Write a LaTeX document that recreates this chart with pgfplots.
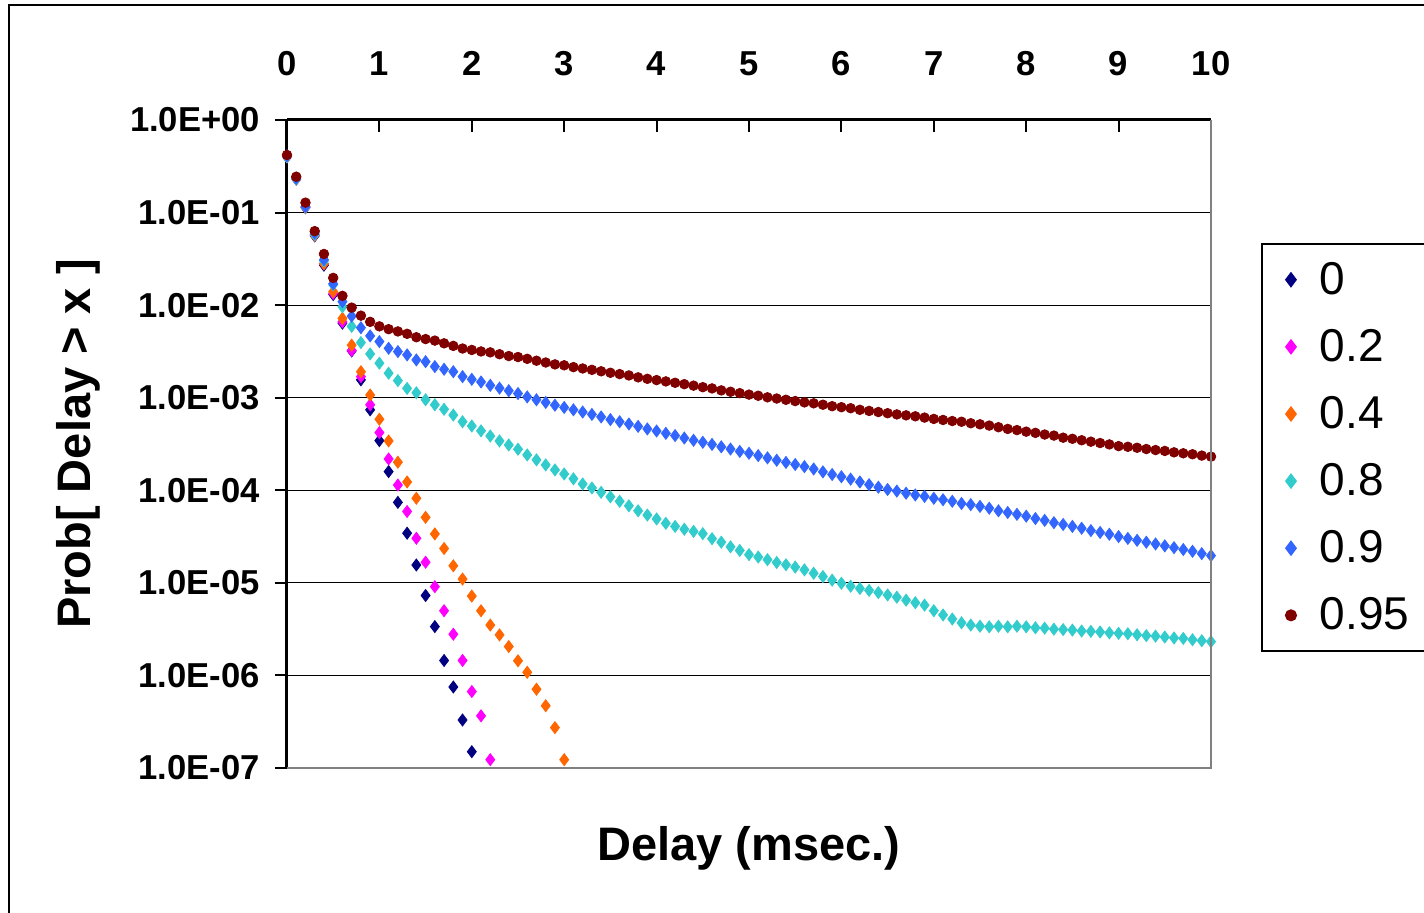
\documentclass[border=0pt]{standalone}
\usepackage{fontspec}
\setmainfont{Liberation Sans}
\usepackage{pgfplots}
\pgfplotsset{compat=1.18}

\definecolor{cZero}{RGB}{0,0,128}
\definecolor{cTwo}{RGB}{255,0,255}
\definecolor{cFour}{RGB}{255,102,0}
\definecolor{cEight}{RGB}{51,204,204}
\definecolor{cNine}{RGB}{51,102,255}
\definecolor{cNineFive}{RGB}{128,0,0}

\begin{document}
\begin{tikzpicture}
\draw[line width=1.3pt] (-139pt,-90pt) -- (-139pt,381.5pt) -- (590pt,381.5pt);
\begin{axis}[
  at={(0pt,0pt)}, anchor=south west,
  scale only axis, width=462pt, height=324pt,
  xmin=0, xmax=10, ymin=1e-7, ymax=1, ymode=log,
  axis x line=top, axis y line=left,
  axis line style={-, black, line width=1.5pt},
  xtick={0,1,...,10},
  xticklabels={0,1,2,3,4,5,6,7,8,9,10},
  ytick={1e-7,1e-6,1e-5,1e-4,1e-3,1e-2,1e-1,1},
  yticklabels={1.0E-07,1.0E-06,1.0E-05,1.0E-04,1.0E-03,1.0E-02,1.0E-01,1.0E+00},
  yminorticks=false, xminorticks=false,
  xtick align=inside, ytick align=outside,
  major tick length=6pt,
  tick style={black, line width=1pt},
  ymajorgrids, grid style={black, line width=0.6pt},
  ticklabel style={font=\fontsize{17.3}{20}\selectfont\bfseries},
  xticklabel style={yshift=18.5pt},
  yticklabel style={xshift=-4pt},
  xlabel={Delay (msec.)},
  ylabel={Prob[ Delay > x ]},
  label style={font=\fontsize{23.5}{28}\selectfont\bfseries},
  xlabel style={at={(axis description cs:0.5,-0.1235)}, anchor=center},
  ylabel style={at={(axis description cs:-0.2262,0.5)}, anchor=center},
  legend style={at={(axis description cs:1.0541,0.8102)}, anchor=north west,
    draw=black, line width=1.2pt, font=\fontsize{23}{28}\selectfont,
    row sep=12pt, inner ysep=7pt, inner xsep=12pt,
    /tikz/every odd column/.append style={column sep=10pt},
    nodes={text width=90pt}},
  legend cell align=left,
  every axis plot/.append style={only marks},
  after end axis/.code={
    \draw[gray, line width=1.2pt] (rel axis cs:0,0) -- (rel axis cs:1,0) -- (rel axis cs:1,1);
  },
]
\addplot[color=cZero, mark=diamond*, mark size=3pt] coordinates {
(0,4.0e-1)(0.1,2.3e-1)(0.2,1.13e-1)(0.3,5.6e-2)(0.4,2.7e-2)(0.5,1.3e-2)
(0.6,6.4e-3)(0.7,3.2e-3)(0.8,1.56e-3)(0.9,7.4e-4)(1.0,3.44e-4)(1.1,1.59e-4)
(1.2,7.4e-5)(1.3,3.44e-5)(1.4,1.56e-5)(1.5,7.3e-6)(1.6,3.37e-6)(1.7,1.45e-6)
(1.8,7.5e-7)(1.9,3.3e-7)(2.0,1.5e-7)
};
\addlegendentry{0}
\addplot[color=cTwo, mark=diamond*, mark size=3pt] coordinates {
(0,4.0e-1)(0.1,2.3e-1)(0.2,1.14e-1)(0.3,5.7e-2)(0.4,2.8e-2)(0.5,1.34e-2)
(0.6,6.6e-3)(0.7,3.24e-3)(0.8,1.69e-3)(0.9,8.4e-4)(1.0,4.2e-4)(1.1,2.18e-4)
(1.2,1.14e-4)(1.3,5.9e-5)(1.4,3.03e-5)(1.5,1.67e-5)(1.6,9.1e-6)(1.7,5.0e-6)
(1.8,2.79e-6)(1.9,1.45e-6)(2.0,6.7e-7)(2.1,3.66e-7)(2.2,1.23e-7)
};
\addlegendentry{0.2}
\addplot[color=cFour, mark=diamond*, mark size=3pt] coordinates {
(0,4.0e-1)(0.1,2.3e-1)(0.2,1.14e-1)(0.3,5.7e-2)(0.4,2.8e-2)(0.5,1.4e-2)
(0.6,7.2e-3)(0.7,3.7e-3)(0.8,1.91e-3)(0.9,1.07e-3)(1.0,5.85e-4)(1.1,3.41e-4)
(1.2,2.01e-4)(1.3,1.23e-4)(1.4,8.2e-5)(1.5,5.1e-5)(1.6,3.38e-5)(1.7,2.35e-5)
(1.8,1.53e-5)(1.9,1.10e-5)(2.0,7.2e-6)(2.1,5.0e-6)(2.2,3.5e-6)(2.3,2.74e-6)
(2.4,2.05e-6)(2.5,1.44e-6)(2.6,1.08e-6)(2.7,7.1e-7)(2.8,4.7e-7)(2.9,2.73e-7)
(3.0,1.23e-7)
};
\addlegendentry{0.4}
\addplot[color=cEight, mark=diamond*, mark size=3pt] coordinates {
(0,4.0e-1)(0.1,2.3e-1)(0.2,1.15e-1)(0.3,5.8e-2)(0.4,3.0e-2)(0.5,1.66e-2)
(0.6,9.6e-3)(0.7,5.9e-3)(0.8,3.94e-3)(0.9,2.97e-3)(1.0,2.36e-3)(1.1,1.84e-3)
(1.2,1.53e-3)(1.3,1.26e-3)(1.4,1.13e-3)(1.5,9.5e-4)(1.6,8.4e-4)(1.7,7.5e-4)
(1.8,6.5e-4)(1.9,5.5e-4)(2.0,4.95e-4)(2.1,4.39e-4)(2.2,3.86e-4)(2.3,3.41e-4)
(2.4,3.09e-4)(2.5,2.78e-4)(2.6,2.41e-4)(2.7,2.13e-4)(2.8,1.88e-4)(2.9,1.66e-4)
(3.0,1.50e-4)(3.1,1.33e-4)(3.2,1.17e-4)(3.3,1.06e-4)(3.4,9.5e-5)(3.5,8.5e-5)
(3.6,7.6e-5)(3.7,6.8e-5)(3.8,6.0e-5)(3.9,5.4e-5)(4.0,4.9e-5)(4.1,4.4e-5)
(4.2,4.07e-5)(4.3,3.8e-5)(4.4,3.6e-5)(4.5,3.4e-5)(4.6,3.0e-5)(4.7,2.75e-5)
(4.8,2.45e-5)(4.9,2.24e-5)(5.0,2.02e-5)(5.1,1.9e-5)(5.2,1.78e-5)(5.3,1.66e-5)
(5.4,1.57e-5)(5.5,1.48e-5)(5.6,1.38e-5)(5.7,1.27e-5)(5.8,1.17e-5)(5.9,1.07e-5)
(6.0,9.9e-6)(6.1,9.2e-6)(6.2,8.7e-6)(6.3,8.3e-6)(6.4,7.85e-6)(6.5,7.4e-6)
(6.6,7.0e-6)(6.7,6.5e-6)(6.8,6.1e-6)(6.9,5.75e-6)(7.0,5.0e-6)(7.1,4.5e-6)
(7.2,4.07e-6)(7.3,3.7e-6)(7.4,3.5e-6)(7.5,3.4e-6)(7.6,3.35e-6)(7.7,3.4e-6)
(7.8,3.35e-6)(7.9,3.4e-6)(8.0,3.35e-6)(8.1,3.27e-6)(8.2,3.24e-6)(8.3,3.16e-6)
(8.4,3.13e-6)(8.5,3.09e-6)(8.6,3.02e-6)(8.7,2.99e-6)(8.8,2.95e-6)(8.9,2.88e-6)
(9.0,2.85e-6)(9.1,2.82e-6)(9.2,2.75e-6)(9.3,2.69e-6)(9.4,2.66e-6)(9.5,2.6e-6)
(9.6,2.54e-6)(9.7,2.51e-6)(9.8,2.43e-6)(9.9,2.37e-6)(10.0,2.32e-6)
};
\addlegendentry{0.8}
\addplot[color=cNine, mark=diamond*, mark size=3pt] coordinates {
(0,4.1e-1)(0.1,2.35e-1)(0.2,1.16e-1)(0.3,6.0e-2)(0.4,3.1e-2)(0.5,1.7e-2)
(0.6,1.09e-2)(0.7,7.6e-3)(0.8,5.7e-3)(0.9,4.65e-3)(1.0,4.04e-3)(1.1,3.42e-3)
(1.2,3.15e-3)(1.3,2.9e-3)(1.4,2.56e-3)(1.5,2.45e-3)(1.6,2.17e-3)(1.7,2.03e-3)
(1.8,1.91e-3)(1.9,1.69e-3)(2.0,1.58e-3)(2.1,1.48e-3)(2.2,1.36e-3)(2.3,1.27e-3)
(2.4,1.19e-3)(2.5,1.11e-3)(2.6,1.02e-3)(2.7,9.5e-4)(2.8,8.9e-4)(2.9,8.3e-4)
(3.0,7.85e-4)(3.1,7.4e-4)(3.2,7.0e-4)(3.3,6.6e-4)(3.4,6.2e-4)(3.5,5.8e-4)
(3.6,5.5e-4)(3.7,5.2e-4)(3.8,4.9e-4)(3.9,4.6e-4)(4.0,4.37e-4)(4.1,4.12e-4)
(4.2,3.9e-4)(4.3,3.67e-4)(4.4,3.47e-4)(4.5,3.3e-4)(4.6,3.13e-4)(4.7,2.95e-4)
(4.8,2.79e-4)(4.9,2.63e-4)(5.0,2.51e-4)(5.1,2.37e-4)(5.2,2.24e-4)(5.3,2.11e-4)
(5.4,2.0e-4)(5.5,1.9e-4)(5.6,1.8e-4)(5.7,1.70e-4)(5.8,1.58e-4)(5.9,1.48e-4)
(6.0,1.40e-4)(6.1,1.32e-4)(6.2,1.23e-4)(6.3,1.15e-4)(6.4,1.08e-4)(6.5,1.02e-4)
(6.6,9.8e-5)(6.7,9.3e-5)(6.8,8.9e-5)(6.9,8.6e-5)(7.0,8.2e-5)(7.1,7.9e-5)
(7.2,7.6e-5)(7.3,7.2e-5)(7.4,7.0e-5)(7.5,6.7e-5)(7.6,6.4e-5)(7.7,6.0e-5)
(7.8,5.75e-5)(7.9,5.5e-5)(8.0,5.25e-5)(8.1,4.95e-5)(8.2,4.73e-5)(8.3,4.47e-5)
(8.4,4.27e-5)(8.5,4.07e-5)(8.6,3.89e-5)(8.7,3.67e-5)(8.8,3.5e-5)(8.9,3.35e-5)
(9.0,3.16e-5)(9.1,3.02e-5)(9.2,2.88e-5)(9.3,2.75e-5)(9.4,2.63e-5)(9.5,2.51e-5)
(9.6,2.4e-5)(9.7,2.29e-5)(9.8,2.19e-5)(9.9,2.07e-5)(10.0,1.97e-5)
};
\addlegendentry{0.9}
\addplot[color=cNineFive, mark=*, mark size=2.4pt] coordinates {
(0,4.19e-1)(0.1,2.44e-1)(0.2,1.28e-1)(0.3,6.3e-2)(0.4,3.57e-2)(0.5,1.97e-2)
(0.6,1.26e-2)(0.7,9.4e-3)(0.8,7.7e-3)(0.9,6.6e-3)(1.0,5.9e-3)(1.1,5.5e-3)
(1.2,5.2e-3)(1.3,4.9e-3)(1.4,4.5e-3)(1.5,4.3e-3)(1.6,4.14e-3)(1.7,3.87e-3)
(1.8,3.63e-3)(1.9,3.4e-3)(2.0,3.28e-3)(2.1,3.16e-3)(2.2,3.09e-3)(2.3,2.95e-3)
(2.4,2.82e-3)(2.5,2.75e-3)(2.6,2.63e-3)(2.7,2.51e-3)(2.8,2.40e-3)(2.9,2.29e-3)
(3.0,2.24e-3)(3.1,2.14e-3)(3.2,2.07e-3)(3.3,2.0e-3)(3.4,1.93e-3)(3.5,1.86e-3)
(3.6,1.80e-3)(3.7,1.74e-3)(3.8,1.66e-3)(3.9,1.60e-3)(4.0,1.55e-3)(4.1,1.50e-3)
(4.2,1.45e-3)(4.3,1.40e-3)(4.4,1.35e-3)(4.5,1.30e-3)(4.6,1.26e-3)(4.7,1.20e-3)
(4.8,1.16e-3)(4.9,1.12e-3)(5.0,1.08e-3)(5.1,1.05e-3)(5.2,1.01e-3)(5.3,9.8e-4)
(5.4,9.5e-4)(5.5,9.2e-4)(5.6,8.9e-4)(5.7,8.7e-4)(5.8,8.4e-4)(5.9,8.1e-4)
(6.0,7.9e-4)(6.1,7.7e-4)(6.2,7.4e-4)(6.3,7.2e-4)(6.4,7.0e-4)(6.5,6.8e-4)
(6.6,6.6e-4)(6.7,6.45e-4)(6.8,6.3e-4)(6.9,6.1e-4)(7.0,5.9e-4)(7.1,5.75e-4)
(7.2,5.6e-4)(7.3,5.5e-4)(7.4,5.3e-4)(7.5,5.16e-4)(7.6,5.0e-4)(7.7,4.8e-4)
(7.8,4.6e-4)(7.9,4.47e-4)(8.0,4.3e-4)(8.1,4.17e-4)(8.2,4.0e-4)(8.3,3.9e-4)
(8.4,3.7e-4)(8.5,3.6e-4)(8.6,3.47e-4)(8.7,3.35e-4)(8.8,3.24e-4)(8.9,3.13e-4)
(9.0,3.0e-4)(9.1,2.95e-4)(9.2,2.88e-4)(9.3,2.79e-4)(9.4,2.72e-4)(9.5,2.66e-4)
(9.6,2.57e-4)(9.7,2.51e-4)(9.8,2.45e-4)(9.9,2.37e-4)(10.0,2.31e-4)
};
\addlegendentry{0.95}
\end{axis}
\pgfresetboundingbox
\useasboundingbox (-143.5pt,-72.5pt) rectangle (568.5pt,384pt);
\end{tikzpicture}
\end{document}
